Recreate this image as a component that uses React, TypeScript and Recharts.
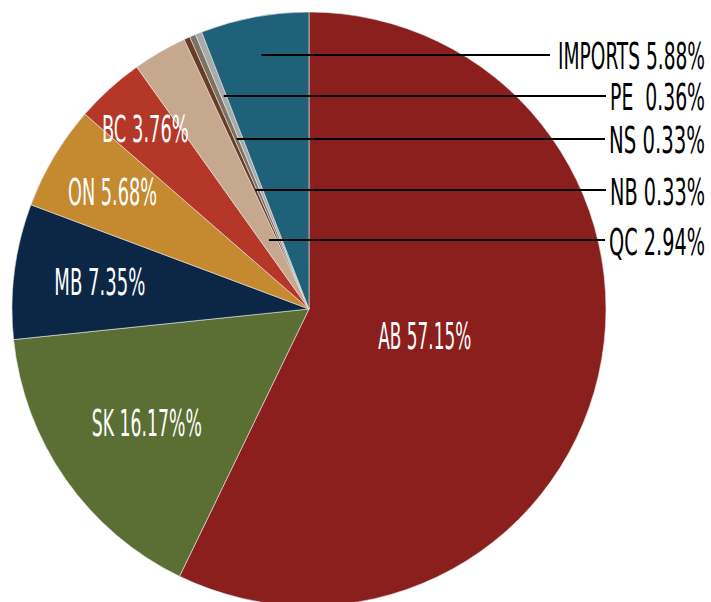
import { PieChart, Pie, Cell } from "recharts";

// slices, clockwise from 12 o'clock
const regions = ["AB", "SK", "MB", "ON", "BC", "QC", "NB", "NS", "PE", "IMPORTS"];
const shares = [57.15, 16.17, 7.35, 5.68, 3.76, 2.94, 0.33, 0.33, 0.36, 5.88];
const labels = [
  "AB 57.15%",
  "SK 16.17%%",
  "MB 7.35%",
  "ON 5.68%",
  "BC 3.76%",
  "QC 2.94%",
  "NB 0.33%",
  "NS 0.33%",
  "PE  0.36%",
  "IMPORTS 5.88%",
];
const colors = [
  "#8a1f1e",
  "#5b6e33",
  "#0c2746",
  "#c5892f",
  "#b43727",
  "#c5a88e",
  "#6b3b23",
  "#7b7262",
  "#a9abaa",
  "#1f6178",
];

// label layout (condensed type, so each label is squeezed to its width)
const labelWidth: Record<string, number> = {
  AB: 93, SK: 110, MB: 91, ON: 89, BC: 87,
  QC: 96, NB: 95, NS: 96, PE: 95, IMPORTS: 147,
};
const insideRadius: Record<string, number> = { AB: 0.4, SK: 0.667, MB: 0.71, ON: 0.77, BC: 0.82 };
const calloutY: Record<string, number> = { IMPORTS: 55, PE: 96, NS: 139, NB: 190, QC: 240 };

const data = regions.map((name, i) => ({ name, value: shares[i], label: labels[i] }));

const RAD = Math.PI / 180;
const FONT = "'Liberation Sans Narrow', 'DejaVu Sans Condensed', 'Arial Narrow', sans-serif";
const FONT_SIZE = 38;
const TEXT_RIGHT = 705;

const measureCtx =
  typeof document !== "undefined" ? document.createElement("canvas").getContext("2d") : null;

function squeeze(text: string, width: number) {
  if (!measureCtx) return 0.6;
  measureCtx.font = `${FONT_SIZE}px ${FONT}`;
  const w = measureCtx.measureText(text).width;
  return w > 0 ? width / w : 0.6;
}

function CondensedText({ x, y, text, width, anchor, fill }: any) {
  return (
    <text
      transform={`translate(${x},${y}) scale(${squeeze(text, width)},1)`}
      textAnchor={anchor}
      dominantBaseline="central"
      fill={fill}
      fontFamily={FONT}
      fontSize={FONT_SIZE}
      style={{ whiteSpace: "pre" }}
    >
      {text}
    </text>
  );
}

function SliceLabel(props: any) {
  const { cx, cy, midAngle, outerRadius, payload } = props;
  const name = payload.name;
  const width = labelWidth[name];
  const cos = Math.cos(-midAngle * RAD);
  const sin = Math.sin(-midAngle * RAD);

  if (insideRadius[name] !== undefined) {
    const r = outerRadius * insideRadius[name];
    return (
      <CondensedText
        x={cx + r * cos}
        y={cy + r * sin}
        text={payload.label}
        width={width}
        anchor="middle"
        fill="#ffffff"
      />
    );
  }

  const y = calloutY[name];
  if (y === undefined) return null;
  const r = (y - cy) / sin;
  const x0 = cx + r * cos;
  const lineEnd = TEXT_RIGHT - width - (name === "IMPORTS" ? 8 : 4);
  return (
    <g>
      <line x1={x0} y1={y} x2={lineEnd} y2={y} stroke="#000000" strokeWidth={2} />
      <CondensedText
        x={TEXT_RIGHT}
        y={y + 1}
        text={payload.label}
        width={width}
        anchor="end"
        fill="#000000"
      />
    </g>
  );
}

export default function App() {
  return (
    <div style={{ position: "absolute", left: 0, top: 0, background: "#ffffff" }}>
      <PieChart width={711} height={602} margin={{ top: 0, right: 0, bottom: 0, left: 0 }}>
        <Pie
          data={data}
          dataKey="value"
          nameKey="name"
          cx={309}
          cy={309}
          outerRadius={297}
          startAngle={90}
          endAngle={-270}
          stroke="#e8e8e8"
          strokeWidth={0.6}
          label={SliceLabel}
          labelLine={false}
          isAnimationActive={false}
        >
          {data.map((d, i) => (
            <Cell key={d.name} fill={colors[i]} />
          ))}
        </Pie>
      </PieChart>
    </div>
  );
}
